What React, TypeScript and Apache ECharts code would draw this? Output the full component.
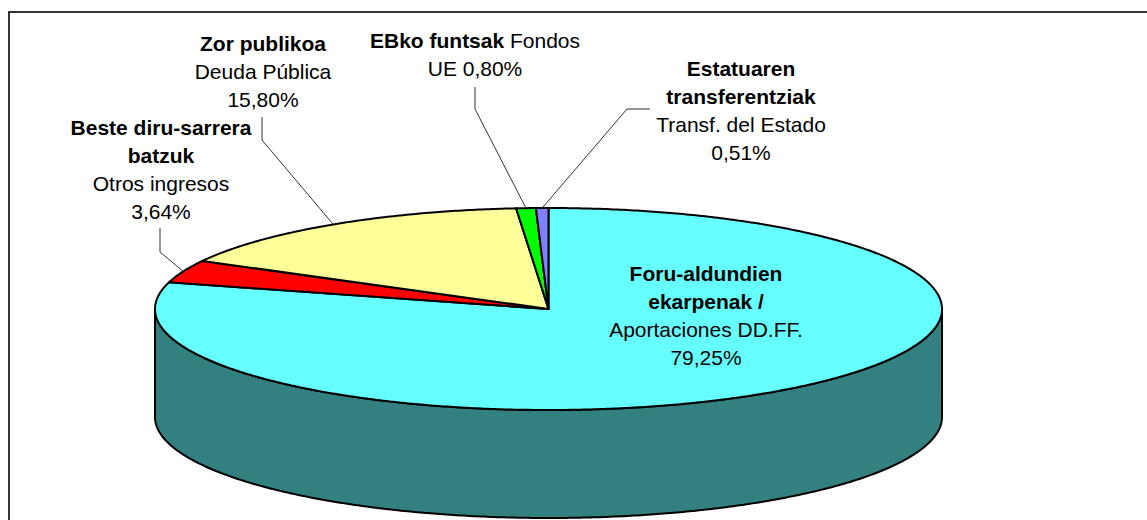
import React, { useEffect, useRef } from "react";
import * as echarts from "echarts";

// ---- data ----
const namesEu = [
  "Foru-aldundien\nekarpenak /",
  "Beste diru-sarrera\nbatzuk",
  "Zor publikoa",
  "EBko funtsak",
  "Estatuaren\ntransferentziak",
];
const namesEs = ["Aportaciones DD.FF.", "Otros ingresos", "Deuda Pública", "Fondos UE", "Transf. del Estado"];
const shares = [79.25, 3.64, 15.8, 0.8, 0.51];
const shareLabels = ["79,25%", "3,64%", "15,80%", "0,80%", "0,51%"];
const topColors = ["#66FFFF", "#FF0000", "#FFFF99", "#00FF00", "#8080FF"];
const wallColors = ["#338080", "#800000", "#808050", "#008000", "#404080"];

// ---- layout ----
const PIE = { cx: 548.5, cy: 309, rx: 393.5, ry: 101, depth: 108 };
const FONT = '"Liberation Sans", Arial, sans-serif';
const labelLayout: any[] = [
  { x: 706, y: 259 },
  { x: 161, y: 113, anchor: [160, 228], elbow: [160, 252] },
  { x: 263, y: 29, anchor: [262, 117], elbow: [262, 140] },
  { x: 475, y: 26, anchor: [475, 87], elbow: [475, 109], inline: true },
  { x: 741, y: 54, anchor: [650, 109], elbow: [627, 109] },
];

function pt(theta: number, dy = 0): number[] {
  return [PIE.cx + PIE.rx * Math.sin(theta), PIE.cy - PIE.ry * Math.cos(theta) + dy];
}

function arcPoints(a0: number, a1: number, dy = 0): number[][] {
  const n = Math.max(2, Math.ceil(((a1 - a0) * 180) / Math.PI / 0.5));
  const out: number[][] = [];
  for (let k = 0; k <= n; k++) out.push(pt(a0 + ((a1 - a0) * k) / n, dy));
  return out;
}

function buildLabel(i: number): string {
  const eu = namesEu[i].split("\n").map((l) => `{b|${l}}`);
  if (labelLayout[i].inline) {
    const words = namesEs[i].split(" ");
    eu[eu.length - 1] += `{r| ${words[0]}}`;
    return eu.join("\n") + `\n{r|${words.slice(1).join(" ")} ${shareLabels[i]}}`;
  }
  return eu.join("\n") + `\n{r|${namesEs[i]}}\n{r|${shareLabels[i]}}`;
}

export default function App() {
  const ref = useRef<HTMLDivElement>(null);
  useEffect(() => {
    if (!ref.current) return;
    const chart = echarts.init(ref.current, null, { renderer: "svg" });
    const total = shares.reduce((a, b) => a + b, 0);

    const renderItem = (params: any, api: any) => {
      const i = params.dataIndex;
      let before = 0;
      for (let k = 0; k < i; k++) before += shares[k];
      const a0 = (before / total) * Math.PI * 2;
      const a1 = ((before + (api.value(0) as number)) / total) * Math.PI * 2;
      const children: any[] = [];

      // side wall (visible front half)
      const f0 = Math.max(a0, Math.PI / 2);
      const f1 = Math.min(a1, (Math.PI * 3) / 2);
      if (f1 > f0) {
        const top = arcPoints(f0, f1);
        const bottom = arcPoints(f0, f1, PIE.depth).reverse();
        children.push({
          type: "polygon",
          silent: true,
          shape: { points: top.concat(bottom) },
          style: { fill: wallColors[i], stroke: "#000", lineWidth: 2, lineJoin: "round" },
        });
      }

      // top face
      const pts = [[PIE.cx, PIE.cy]].concat(arcPoints(a0, a1));
      children.push({
        type: "polygon",
        silent: true,
        shape: { points: pts },
        style: { fill: topColors[i], stroke: "#000", lineWidth: 2, lineJoin: "round" },
      });

      // leader line
      const lay = labelLayout[i];
      if (lay.anchor) {
        const mid = pt((a0 + a1) / 2);
        children.push({
          type: "polyline",
          silent: true,
          shape: { points: [lay.anchor, lay.elbow, mid] },
          style: { stroke: "#333", lineWidth: 1, fill: null },
        });
      }

      // label
      children.push({
        type: "text",
        silent: true,
        x: lay.x,
        y: lay.y,
        style: {
          text: buildLabel(i),
          align: "center",
          verticalAlign: "top",
          fill: "#000",
          fontFamily: FONT,
          fontSize: 21,
          lineHeight: 28,
          rich: {
            b: { fontWeight: "bold", fontSize: 21, fontFamily: FONT, lineHeight: 28, fill: "#000" },
            r: { fontWeight: "normal", fontSize: 21, fontFamily: FONT, lineHeight: 28, fill: "#000" },
          },
        },
      });
      return { type: "group", children };
    };

    chart.setOption({
      animation: false,
      backgroundColor: "#fff",
      graphic: [
        {
          type: "rect",
          silent: true,
          shape: { x: 9, y: 12, width: 1400, height: 800 },
          style: { fill: "none", stroke: "#333", lineWidth: 2 },
        },
      ],
      series: [
        {
          type: "custom",
          coordinateSystem: "none",
          renderItem,
          data: shares,
        },
      ],
    });
    return () => chart.dispose();
  }, []);

  return (
    <div
      ref={ref}
      style={{ position: "fixed", left: 0, top: 0, width: 1147, height: 520 }}
    />
  );
}
